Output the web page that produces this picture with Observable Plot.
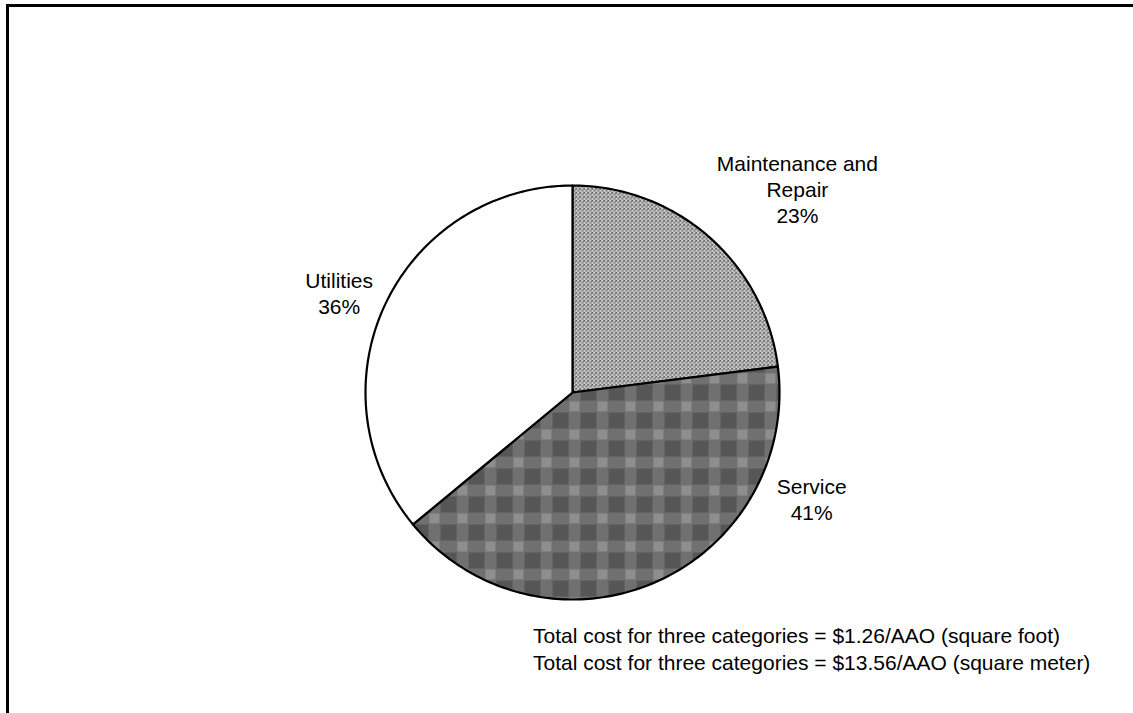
<!DOCTYPE html>
<html><head><meta charset="utf-8">
<script src="https://cdn.jsdelivr.net/npm/d3@7"></script>
<script src="https://cdn.jsdelivr.net/npm/@observablehq/plot@0.6"></script>
<style>
html,body{margin:0;padding:0;background:#fff;overflow:hidden;}
#wrap{position:relative;width:1133px;height:713px;font-family:"Liberation Sans",Arial,sans-serif;}
#chart{position:absolute;left:0;top:0;}
#frame{position:absolute;left:6px;top:4px;width:1140px;height:720px;border-top:3px solid #000;border-left:3px solid #000;pointer-events:none;}
#note{position:absolute;left:533px;top:622px;font-size:21px;line-height:27px;color:#000;white-space:pre;}
</style></head><body>
<div id="wrap"><div id="chart"></div><div id="note"></div><div id="frame"></div></div>
<script>
// ---- data ----
const categories = ["Maintenance and\nRepair", "Service", "Utilities"];
const shares = [23, 41, 36];
const noteLines = [
  "Total cost for three categories = $1.26/AAO (square foot)",
  "Total cost for three categories = $13.56/AAO (square meter)"
];

// ---- styles / layout ----
const sliceFills = ["url(#mrPat)", "url(#svcPat)", "#ffffff"];
const labelNudge = [[88, -49], [157, -84], [-46, -12]]; // px offset from slice edge midpoint

const arcs = d3.pie().sort(null).value(d => d)(shares);
function slicePoints(a, i) {
  const pts = [{x: 0, y: 0, i}];
  const n = Math.max(2, Math.ceil((a.endAngle - a.startAngle) / (Math.PI / 180)));
  for (let k = 0; k <= n; k++) {
    const t = a.startAngle + (a.endAngle - a.startAngle) * k / n;
    pts.push({x: Math.sin(t), y: Math.cos(t), i});
  }
  pts.push({x: 0, y: 0, i});
  return pts;
}
const slices = arcs.map((a, i) => slicePoints(a, i));
const labels = arcs.map((a, i) => {
  const m = (a.startAngle + a.endAngle) / 2;
  return {x: Math.sin(m), y: Math.cos(m), text: categories[i] + "\n" + shares[i] + "%"};
});

const marks = [];
slices.forEach((pts, i) => {
  marks.push(Plot.line(pts, {x: "x", y: "y", fill: sliceFills[i], stroke: "#000", strokeWidth: 2.2, strokeLinejoin: "round", curve: "linear"}));
});
labels.forEach((l, i) => {
  marks.push(Plot.text([l], {x: "x", y: "y", text: "text", dx: labelNudge[i][0], dy: labelNudge[i][1],
    fontSize: 21, lineHeight: 26 / 21, lineAnchor: "middle", textAnchor: "middle", fill: "#000"}));
});

const svg = Plot.plot({
  width: 1133, height: 713,
  marginTop: 185, marginRight: 354, marginBottom: 114, marginLeft: 365,
  x: {domain: [-1, 1], axis: null},
  y: {domain: [-1, 1], axis: null},
  style: {fontFamily: '"Liberation Sans", Arial, sans-serif', background: "transparent", overflow: "visible"},
  marks
});

const defs = `
<pattern id="mrGrain" width="4" height="4" patternUnits="userSpaceOnUse">
  <rect width="4" height="4" fill="#c4c4c4"/>
  <rect x="0" y="0" width="1" height="1" fill="#2e2e2e"/>
  <rect x="2" y="1" width="1" height="1" fill="#2e2e2e"/>
  <rect x="1" y="2" width="1" height="1" fill="#3a3a3a"/>
  <rect x="3" y="3" width="1" height="1" fill="#2e2e2e"/>
  <rect x="3" y="0" width="1" height="1" fill="#555"/>
  <rect x="1" y="0" width="1" height="1" fill="#fff"/>
  <rect x="3" y="2" width="1" height="1" fill="#fff"/>
  <rect x="0" y="3" width="1" height="1" fill="#fff"/>
</pattern>
<pattern id="mrPat" width="4" height="4" patternUnits="userSpaceOnUse">
  <rect width="4" height="4" fill="url(#mrGrain)"/>
</pattern>
<pattern id="svcGrain" width="2" height="2" patternUnits="userSpaceOnUse">
  <rect x="0" y="0" width="1" height="1" fill="#000" fill-opacity="0.55"/>
  <rect x="1" y="1" width="1" height="1" fill="#fff" fill-opacity="0.3"/>
</pattern>
<pattern id="svcPat" width="28" height="28" patternUnits="userSpaceOnUse">
  <rect width="28" height="28" fill="#555"/>
  <rect x="0" y="8" width="28" height="12" fill="#767676"/>
  <rect x="8" y="0" width="12" height="28" fill="#767676"/>
  <rect x="9" y="9" width="10" height="10" fill="#9c9c9c"/>
  <rect width="28" height="28" fill="url(#svcGrain)"/>
</pattern>`;
const d = document.createElementNS("http://www.w3.org/2000/svg", "defs");
d.innerHTML = defs;
svg.insertBefore(d, svg.firstChild);

document.getElementById("chart").appendChild(svg);
document.getElementById("note").textContent = noteLines.join("\n");
</script>
</body></html>
